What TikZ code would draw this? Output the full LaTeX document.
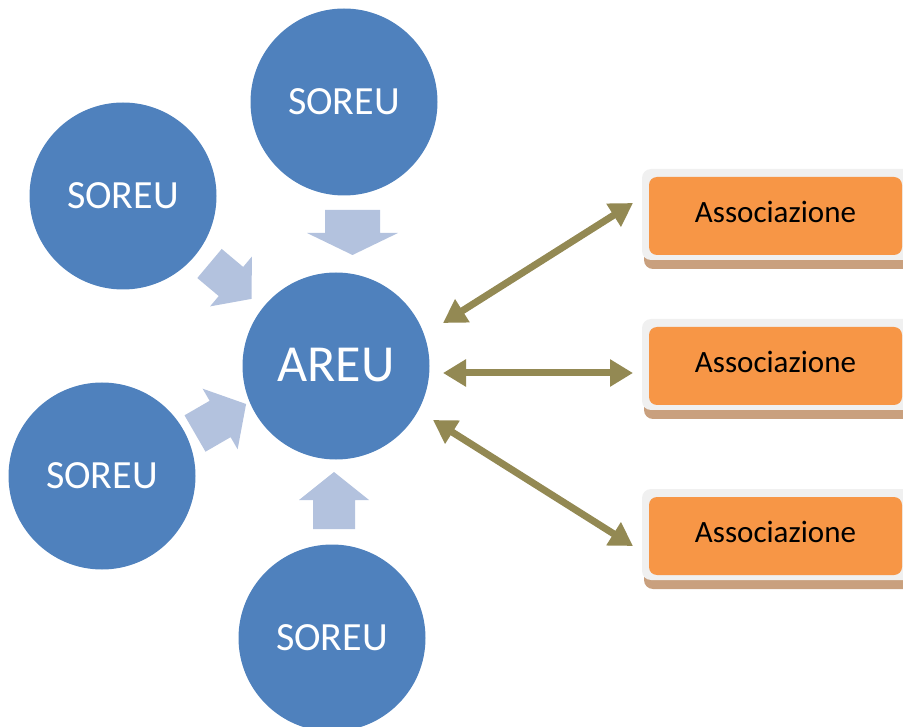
\documentclass[tikz,border=0pt]{standalone}
\usepackage{fontspec}
\setmainfont{Carlito}
\usetikzlibrary{arrows.meta}
\definecolor{circ}{HTML}{4F81BD}
\definecolor{barc}{HTML}{B3C2DE}
\definecolor{olive}{HTML}{938953}
\definecolor{orangec}{HTML}{F79646}
\definecolor{framec}{HTML}{F0F0F0}
\definecolor{shadc}{HTML}{C9A07E}
\newcommand\blkarrow[7]{%
  \begin{scope}[shift={(#1,#2)},rotate=#3]
    \fill[barc] (0,-#5) -- (#4,-#5) -- (#4,-#7) -- (#4+#6,0) -- (#4,#7) -- (#4,#5) -- (0,#5) -- cycle;
  \end{scope}}
\begin{document}
\begin{tikzpicture}[x=1pt,y=-1pt,
  circnode/.style={circle,fill=circ,minimum size=187pt,inner sep=0pt,text=white,font=\fontsize{40}{40}\selectfont},
  assoc/.style={fill=orangec,rounded corners=8pt,minimum width=253pt,minimum height=78pt,inner sep=0pt,text depth=8pt,font=\fontsize{31}{31}\selectfont},
  dbl/.style={draw=olive,line width=7pt,{Triangle[length=23pt,width=26pt]}-{Triangle[length=23pt,width=26pt]}}]
\useasboundingbox (0,0) rectangle (903,727);
\begin{scope}
\clip (0,0) rectangle (903,727);
% circles
\node[circnode] (top) at (344,102) {SOREU};
\node[circnode] (lt) at (123,196) {SOREU};
\node[circnode] (lb) at (102,476) {SOREU};
\node[circnode] (bot) at (332,638) {SOREU};
\node[circnode,font=\fontsize{52}{52}\selectfont,text depth=3pt] (areu) at (336,366) {AREU};
% block arrows
\blkarrow{352.5}{210}{-90}{23}{27.5}{22}{45.5}
\blkarrow{209.5}{263.5}{-40}{28}{19}{27}{32.5}
\blkarrow{195}{433.5}{30}{29}{21}{30}{35}
\blkarrow{334}{529}{90}{29}{21}{28}{35}
% boxes
\foreach \y in {177,327,497}{
  \fill[shadc,rounded corners=9pt] (644,\y-1) rectangle (915,\y+92);
  \fill[framec,rounded corners=9pt] (642,\y-8) rectangle (915,\y+83);
}
\node[assoc] (b1) at (775.5,216) {Associazione};
\node[assoc] (b2) at (775.5,366) {Associazione};
\node[assoc] (b3) at (775.5,536) {Associazione};
% arrow ends
\coordinate (a1) at (443,323);
\coordinate (e1) at (633,203);
\coordinate (a2) at (443,373);
\coordinate (e2) at (633,373);
\coordinate (a3) at (433,420);
\coordinate (e3) at (633,546);
\draw[dbl] (a1) -- (e1);
\draw[dbl] (a2) -- (e2);
\draw[dbl] (a3) -- (e3);
\end{scope}
\end{tikzpicture}
\end{document}
